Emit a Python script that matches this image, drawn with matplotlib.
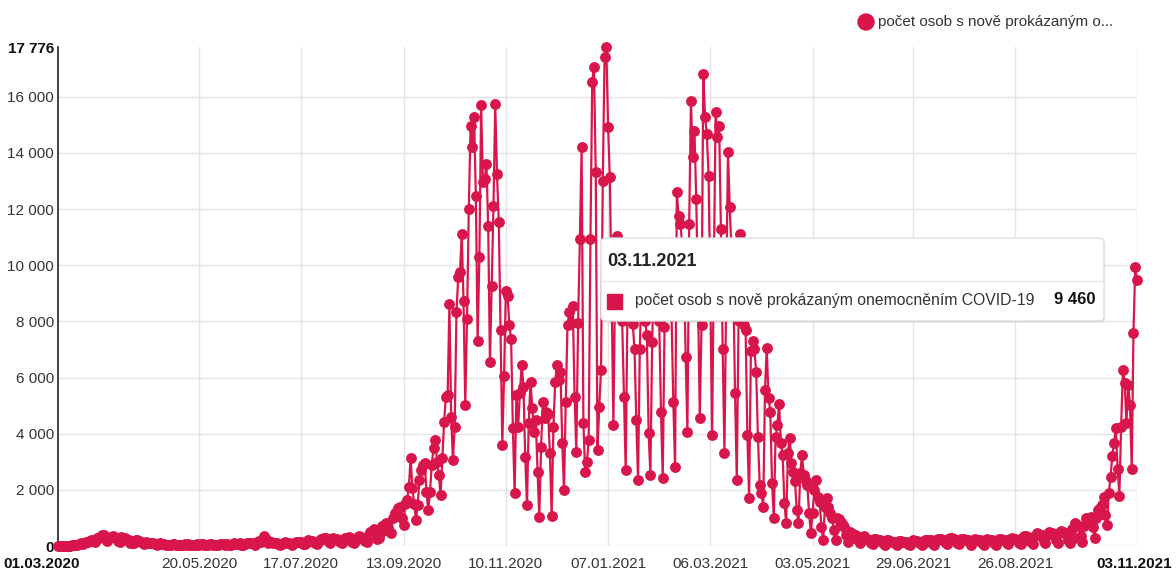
import pandas as pd
import matplotlib
matplotlib.use("Agg")
import matplotlib.pyplot as plt
from matplotlib.patches import FancyBboxPatch, Rectangle, Circle

plt.rcParams['font.family'] = ['Liberation Sans', 'DejaVu Sans']

start_date = '2020-03-01'

# daily counts, rows are weeks Mon..Sun (first value is Sun 01.03.2020)
first_wave = [3,
    2, 1, 2, 5, 8, 9, 12,
    18, 25, 33, 48, 70, 95, 75,
    110, 140, 155, 190, 230, 170, 130,
    270, 300, 320, 380, 390, 250, 190,
    300, 330, 370, 310, 280, 180, 150,
    330, 300, 270, 230, 200, 120, 90,
    110, 230, 200, 170, 140, 100, 70,
    130, 120, 110, 100, 90, 60, 50,
    70, 90, 70, 60, 45, 40, 30,
    50, 80, 60, 50, 40, 30, 25,
    40, 60, 50, 55, 45, 30, 20,
    50, 60, 40, 70, 55, 30, 20,
    40, 55, 60, 45, 50, 30, 25,
    60, 80, 70, 50, 60, 35, 30,
    60, 90, 80, 65, 90, 50, 40,
    70, 90, 110, 100, 120, 70, 50,
    130, 190, 160, 220, 340, 240, 110,
    160, 130, 120, 100, 90, 60, 50,
    80, 120, 130, 110, 100, 60, 50,
    100, 130, 160, 150, 130, 80, 60,
    140, 210, 190, 180, 160, 100, 70,
    190, 250, 240, 270, 290, 170, 110,
    210, 270, 240, 260, 230, 150, 100,
    200, 280, 270, 310, 290, 160, 110,
    230, 310, 340, 330, 300, 190, 140,
    350, 500, 530, 600, 470, 260, 290]

autumn_2020 = [
    500, 700, 750, 820, 650, 520, 460,
    1000, 1170, 1250, 1350, 1400, 1000, 750,
    1500, 1640, 2100, 3140, 2070, 1500, 930,
    1460, 2360, 2700, 2890, 2960, 1930, 1290,
    1930, 2890, 3500, 3790, 3000, 2540, 1820,
    3140, 4430, 5320, 5390, 8610, 4610, 3070,
    4250, 8320, 9570, 9750, 11110, 8710, 5040,
    8070, 12000, 14960, 14210, 15290, 12460, 7290,
    10290, 15710, 12960, 13070, 13610, 11390, 6540,
    9250, 12110, 15750, 13250, 11530, 7710, 3610,
    6040, 9070, 8890, 7890, 7360, 4210, 1890,
    5390, 4250, 5460, 6460, 5680, 3180, 1460,
    4390, 5860, 4930, 4070, 4500, 2640, 1040,
    3540, 5140, 4570, 4790, 4700, 3320, 1070]

winter_2021 = [
    4250, 5860, 6460, 5930, 6210, 3680, 2000,
    5140, 7890, 8320, 7960, 8540, 5320, 3360,
    7960, 10930, 14210, 4390, 2640, 3000, 3790,
    10930, 16540, 17070, 13320, 3430, 4960, 6280,
    13000, 17430, 17776, 14930, 13140, 9000, 4320,
    9500, 11040, 9300, 8800, 8000, 5300, 2700,
    8500, 9800, 9000, 7900, 7000, 4500, 2360,
    7000, 9500, 8800, 8000, 7500, 4040, 2540,
    7250, 9800, 9200, 8800, 8000, 4790, 2430,
    7790, 10500, 9500, 9000, 8200, 5140, 2820,
    12610, 11750, 11460, 10800, 10000, 6750, 4070,
    11460, 15860, 13860, 14790, 12360, 9000, 4570]

spring_2021 = [
    7890, 16820, 15290, 14680, 13180, 9000, 3960,
    10000, 15460, 14570, 14960, 11280, 7000, 3320,
    9000, 14030, 12070, 10500, 9500, 5460, 2360,
    8000, 11100, 10000, 7890, 7710, 3960, 1710,
    6930, 7290, 7000, 6210, 3890, 2180, 1890,
    1390, 5570, 7070, 5290, 4790, 2250, 1000,
    3890, 4300, 5070, 3680, 3250, 1540, 820,
    3320, 3860, 2960, 2640, 2300, 1290, 820,
    2610, 3250, 2540, 2300, 2180, 1180, 460,
    1180, 2000, 2360, 1750, 1570, 680, 210,
    1400, 1710, 1390, 1180, 1000, 570, 210,
    1000, 950, 850, 750, 680, 400, 150]

summer_2021 = [
    500, 450, 420, 380, 350, 200, 90,
    300, 350, 300, 250, 230, 120, 60,
    250, 260, 230, 200, 180, 100, 50,
    200, 210, 180, 160, 150, 90, 40,
    170, 180, 160, 150, 140, 80, 40,
    160, 200, 180, 170, 160, 90, 40,
    120, 200, 230, 220, 200, 110, 50,
    220, 260, 250, 240, 230, 130, 60,
    260, 280, 270, 250, 230, 120, 60,
    240, 260, 250, 230, 210, 110, 50,
    220, 250, 230, 220, 200, 100, 50,
    210, 240, 230, 220, 200, 100, 50,
    220, 250, 240, 230, 210, 110, 60,
    240, 280, 260, 250, 230, 120, 60,
    300, 350, 340, 320, 300, 150, 80,
    350, 470, 430, 400, 380, 190, 90,
    400, 500, 460, 450, 420, 200, 100,
    450, 550, 500, 480, 440, 220, 110]

autumn_2021 = [
    600, 300, 820, 750, 700, 350, 130,
    700, 1000, 950, 900, 1040, 680, 290,
    1000, 1290, 1350, 1460, 1750, 1110, 750,
    1900, 2460, 3210, 3680, 4210, 2750, 1790,
    4250, 6280, 5820, 4390, 5750, 5040, 2750,
    7600, 9930, 9460]

cases = first_wave + autumn_2020 + winter_2021 + spring_2021 + summer_2021 + autumn_2021
dates = pd.date_range(start_date, periods=len(cases), freq='D')

tick_labels = ['20.05.2020', '17.07.2020', '13.09.2020', '10.11.2020', '07.01.2021',
               '06.03.2021', '03.05.2021', '29.06.2021', '26.08.2021']
tick_dates = pd.to_datetime(tick_labels, format='%d.%m.%Y')
y_grid = [0, 2000, 4000, 6000, 8000, 10000, 12000, 14000, 16000]
y_max = max(cases)

series_name = 'počet osob s nově prokázaným onemocněním COVID-19'
legend_name = 'počet osob s nově prokázaným o...'
hover_date = '03.11.2021'
hover_value = '9 460'

red = '#d8164b'
grid_c = '#e4e4e4'
W, H = 1176, 577

fig = plt.figure(figsize=(W / 100, H / 100), dpi=100)
ax = fig.add_axes([58 / W, 1 - 546 / H, (1137 - 58) / W, (546 - 47) / H])

for v in y_grid:
    ax.axhline(v, color=grid_c, lw=1, zorder=0)
for d in tick_dates:
    ax.axvline(d, color=grid_c, lw=1, zorder=0)
ax.axvline(dates[-1], color=grid_c, lw=1, zorder=0)

ax.plot(dates, cases, color=red, lw=1.6, marker='o', ms=6.8,
        clip_on=False, zorder=3)

ax.set_xlim(dates[0], dates[-1])
ax.set_ylim(0, y_max)
for s in ['top', 'right', 'bottom']:
    ax.spines[s].set_visible(False)
ax.spines['left'].set_color('#222222')
ax.spines['left'].set_linewidth(1.2)

ax.set_xticks(tick_dates)
ax.set_xticklabels(tick_labels, fontsize=11, color='#333333')
yt = y_grid + [y_max]
ax.set_yticks(yt)
ax.set_yticklabels([f'{v:,}'.replace(',', ' ') for v in yt], fontsize=11, color='#333333')
for lbl in ax.get_yticklabels():
    if lbl.get_text() in ('0', f'{y_max:,}'.replace(',', ' ')):
        lbl.set_fontweight('bold')
        lbl.set_color('#111111')
ax.tick_params(axis='both', length=0)
ax.tick_params(axis='x', pad=8)
ax.tick_params(axis='y', pad=3)

fig.text(3 / W, 1 - 564 / H, dates[0].strftime('%d.%m.%Y'), ha='left', va='center',
         fontsize=11, fontweight='bold', color='#111111')
fig.text(1172 / W, 1 - 564 / H, dates[-1].strftime('%d.%m.%Y'), ha='right', va='center',
         fontsize=11, fontweight='bold', color='#111111')

# overlay in pixel units for legend and tooltip
ov = fig.add_axes([0, 0, 1, 1], zorder=10)
ov.set_xlim(0, W)
ov.set_ylim(H, 0)
ov.axis('off')
ov.patch.set_alpha(0)

ov.add_patch(Circle((866, 22), 8, color=red))
ov.text(878, 22, legend_name, ha='left', va='center', fontsize=11, color='#333333')

ov.add_patch(FancyBboxPatch((603, 241), 502, 82, boxstyle='round,pad=0,rounding_size=5',
                            fc='#000000', ec='none', alpha=0.06))
ov.add_patch(FancyBboxPatch((601, 238), 503, 83, boxstyle='round,pad=0,rounding_size=5',
                            fc='white', ec='#dddddd', lw=1))
ov.text(607, 261, hover_date, ha='left', va='center', fontsize=13, fontweight='bold',
        color='#222222')
ov.plot([602, 1103], [281, 281], color='#e6e6e6', lw=1)
ov.add_patch(Rectangle((607, 294), 15, 15, color=red))
ov.text(635, 300, series_name, ha='left', va='center', fontsize=11.3, color='#333333')
ov.text(1096, 300, hover_value, ha='right', va='center', fontsize=12, fontweight='bold',
        color='#111111')

fig.savefig('out.png', dpi=100)
